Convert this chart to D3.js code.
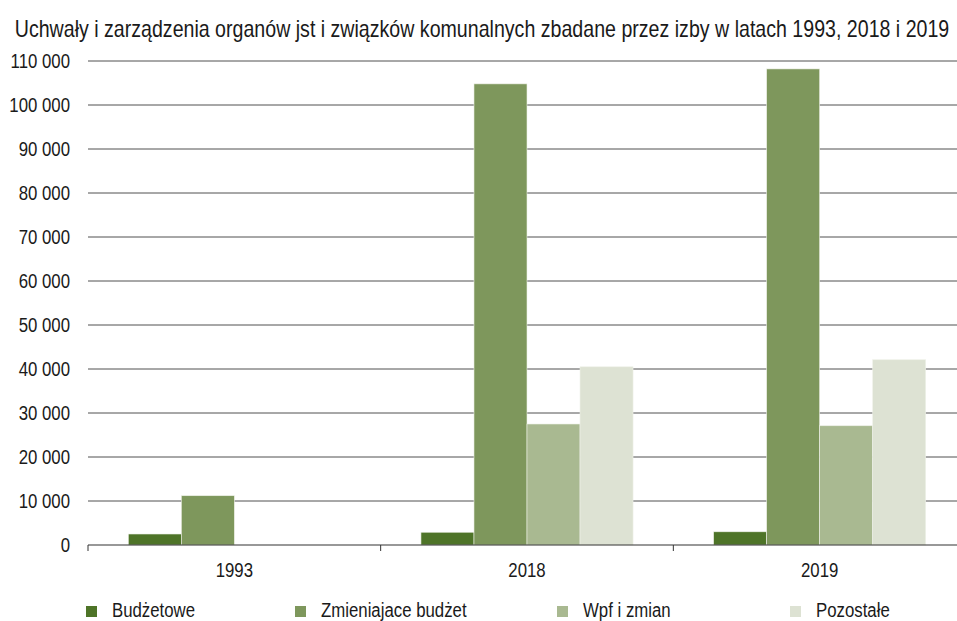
<!DOCTYPE html>
<html><head><meta charset="utf-8">
<script src="https://cdn.jsdelivr.net/npm/d3@7"></script>
<style>
body{margin:0;background:#fff;}
text{font-family:"Liberation Sans",Arial,sans-serif;fill:#1a1a1a;font-size:21px;}
</style></head>
<body><svg id="c" width="957" height="621"></svg>
<script>
const title = "Uchwały i zarządzenia organów jst i związków komunalnych zbadane przez izby w latach 1993, 2018 i 2019";
const years = ["1993", "2018", "2019"];
const seriesNames = ["Budżetowe", "Zmieniajace budżet", "Wpf i zmian", "Pozostałe"];
const budzetowe = [2500, 2900, 3000];
const zmieniajace = [11200, 104800, 108200];
const wpf = [0, 27500, 27100];
const pozostale = [0, 40500, 42100];
const colors = ["#4e7428", "#7e975c", "#a9b991", "#dde2d3"];
const yTicks = [0,10000,20000,30000,40000,50000,60000,70000,80000,90000,100000,110000];

const seriesValues = [budzetowe, zmieniajace, wpf, pozostale];
const svg = d3.select("#c");
const fmt = v => d3.format(",")(v).replace(/,/g, " ");
const NARROW = 0.8;

function ntext(sel, x, y, anchor, str, sx) {
  const g = sel.append("g").attr("transform", `translate(${x},${y}) scale(${sx || NARROW},1)`);
  g.append("text").attr("text-anchor", anchor).attr("dy", "0.35em").text(str);
  return g;
}

const y = d3.scaleLinear().domain([0, 110000]).range([545, 61]);
const x0 = d3.scaleBand().domain(years).range([88, 966]).padding(0);
const x1 = d3.scaleBand().domain(seriesNames).range([0, x0.bandwidth()]).paddingInner(0).paddingOuter(0.76);

// title fitted to reference width
const tg = ntext(svg, 482, 29, "middle", title, 1);
tg.select("text").style("font-size", "23px");
const tw = tg.select("text").node().getComputedTextLength();
tg.attr("transform", `translate(482,29) scale(${935 / tw},1)`);

// gridlines
svg.append("g").selectAll("line").data(yTicks.filter(d => d > 0)).join("line")
  .attr("x1", 88).attr("x2", 957).attr("y1", d => y(d)).attr("y2", d => y(d))
  .attr("stroke", "#505050").attr("stroke-width", 1);

// y labels
const yl = svg.append("g");
yTicks.forEach(d => ntext(yl, 70, y(d), "end", fmt(d)));

// bars
const rows = years.map((yr, i) => ({yr, vals: seriesNames.map((s, j) => ({s, j, v: seriesValues[j][i]}))}));
svg.append("g").selectAll("g").data(rows).join("g")
  .attr("transform", d => `translate(${x0(d.yr)},0)`)
  .selectAll("rect").data(d => d.vals).join("rect")
  .attr("x", d => x1(d.s)).attr("width", x1.bandwidth())
  .attr("y", d => y(d.v)).attr("height", d => y(0) - y(d.v))
  .attr("fill", d => colors[d.j]).attr("stroke", "#eef1e8").attr("stroke-width", 0.6);

// x axis
const xa = svg.append("g").attr("transform", "translate(0,545)");
xa.append("line").attr("x1", 88).attr("x2", 957).attr("stroke", "#333").attr("stroke-width", 1.2);
xa.selectAll("line.tk").data(years).join("line").attr("class", "tk")
  .attr("x1", d => x0(d)).attr("x2", d => x0(d)).attr("y1", 0).attr("y2", 6).attr("stroke", "#333");
years.forEach(d => ntext(xa, x0(d) + x0.bandwidth() / 2, 25, "middle", d));

// legend
const legX = [86, 295, 557, 790];
seriesNames.forEach((s, i) => {
  const g = svg.append("g").attr("transform", `translate(${legX[i]},606)`);
  g.append("rect").attr("width", 11).attr("height", 11).attr("fill", colors[i]);
  ntext(g, 26, 3.5, "start", s);
});
</script></body></html>
